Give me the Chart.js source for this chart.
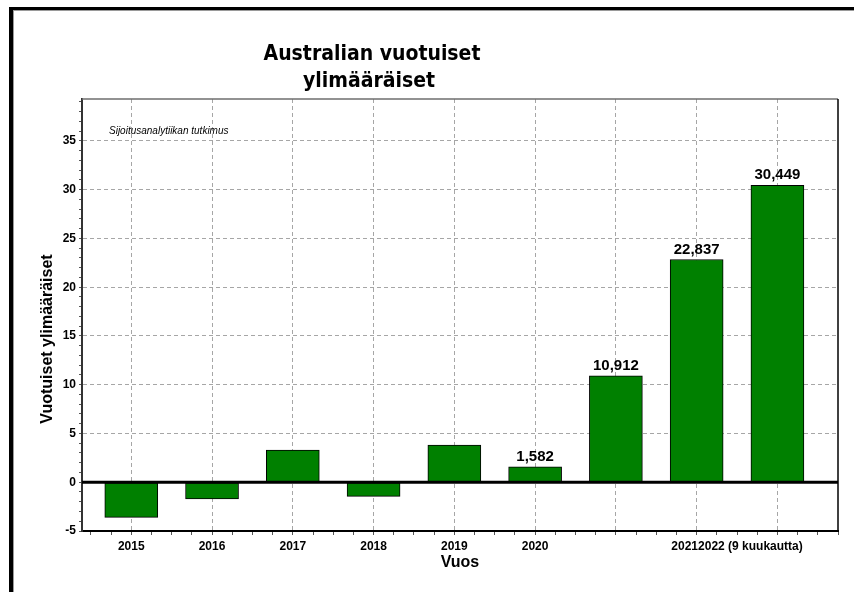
<!DOCTYPE html>
<html>
<head>
<meta charset="utf-8">
<script src="https://cdn.jsdelivr.net/npm/chart.js@4.4.0/dist/chart.umd.min.js"></script>
<style>
    html, body { margin: 0; padding: 0; background: #fff; }
    #wrap { width: 854px; height: 592px; }
</style>
</head>
<body>
<div id="wrap"><canvas id="chart" width="854" height="592"></canvas></div>
<script>
// --- DATA ---
const categories = ['2015', '2016', '2017', '2018', '2019', '2020', '', '2021', '2022 (9 kuukautta)'];
const values = [-3.6, -1.7, 3.3, -1.45, 3.8, 1.582, 10.912, 22.837, 30.449];
const showValue = [false, false, false, false, false, true, true, true, true];
const yTickLabels = [-5, 0, 5, 10, 15, 20, 25, 30, 35];

const titleLines = ['Australian vuotuiset', 'ylimääräiset'];
const yTitle = 'Vuotuiset ylimääräiset';
const xTitle = 'Vuos';
const sourceNote = 'Sijoitusanalytiikan tutkimus';

const FONT = "'Liberation Sans', Arial, sans-serif";
const GREEN = '#008000';
const GRID = '#a6a6a6';

// x ticks every quarter of a category, y ticks every unit (minor ticks)
function quarterTicks() {
    const t = [];
    for (let v = -0.5; v <= 8.75; v += 0.25) t.push({ value: Math.round(v * 100) / 100 });
    return t;
}
function unitTicks() {
    const t = [];
    for (let v = -5; v <= 39; v++) t.push({ value: v });
    return t;
}

// labels of 2021 and 2022 run together in the original
function xLabel(v) {
    if (Number.isInteger(v) && v >= 0 && v <= 5) return categories[v];
    if (v === 7.5) return categories[7] + categories[8];
    return '';
}

const tickValue = ctx => (ctx.tick ? ctx.tick.value : null);

const decorPlugin = {
    id: 'decor',
    beforeDraw(chart) {
        const c = chart.ctx;
        c.save();
        // outer frame (only top and left edges are in view)
        c.fillStyle = '#000';
        c.fillRect(9, 7, 845, 3);
        c.fillRect(9, 7, 4, 585);
        c.fillStyle = '#9a9a9a';
        c.fillRect(13, 10, 841, 1);
        c.fillRect(13, 10, 1, 582);
        c.restore();
    },
    afterDatasetsDraw(chart) {
        const c = chart.ctx;
        const area = chart.chartArea;
        const y = chart.scales.y;
        const meta = chart.getDatasetMeta(0);
        c.save();
        // zero line
        c.strokeStyle = '#000';
        c.lineWidth = 3;
        c.beginPath();
        c.moveTo(area.left, y.getPixelForValue(0));
        c.lineTo(area.right, y.getPixelForValue(0));
        c.stroke();
        // value labels
        c.fillStyle = '#000';
        c.font = 'bold 15px ' + FONT;
        c.textAlign = 'center';
        c.textBaseline = 'alphabetic';
        meta.data.forEach((bar, i) => {
            if (!showValue[i]) return;
            c.fillText(values[i].toFixed(3).replace('.', ','), bar.x, bar.y - 6);
        });
        c.restore();
    },
    afterDraw(chart) {
        const c = chart.ctx;
        const area = chart.chartArea;
        c.save();
        // plot frame top / right
        c.lineWidth = 1.5;
        c.strokeStyle = '#6e6e6e';
        c.beginPath();
        c.moveTo(area.left, area.top);
        c.lineTo(area.right, area.top);
        c.stroke();
        c.strokeStyle = '#000';
        c.beginPath();
        c.moveTo(area.right, area.top);
        c.lineTo(area.right, area.bottom);
        c.stroke();

        // title
        c.fillStyle = '#000';
        c.textAlign = 'center';
        c.textBaseline = 'alphabetic';
        c.font = "bold 21px 'DejaVu Sans Condensed', 'DejaVu Sans', sans-serif";
        c.fillText(titleLines[0], 372, 60);
        c.fillText(titleLines[1], 369, 87);

        // source note
        c.font = 'italic 10px ' + FONT;
        c.textAlign = 'left';
        c.textBaseline = 'middle';
        c.fillText(sourceNote, area.left + 27, area.top + 32);

        // y axis title
        c.font = 'bold 16px ' + FONT;
        c.textAlign = 'center';
        c.translate(area.left - 34, (area.top + area.bottom) / 2 + 24);
        c.rotate(-Math.PI / 2);
        c.fillText(yTitle, 0, 0);
        c.restore();
    }
};

const tickFont = { family: FONT, size: 12, weight: 'bold' };

new Chart(document.getElementById('chart').getContext('2d'), {
    type: 'bar',
    data: {
        datasets: [{
            data: values.map((v, i) => ({ x: i, y: v })),
            backgroundColor: GREEN,
            borderColor: '#000',
            borderWidth: 1,
            borderSkipped: false,
            barThickness: 53
        }]
    },
    options: {
        responsive: false,
        animation: false,
        layout: { padding: { top: 99, right: 16, left: 0, bottom: 0 } },
        plugins: { legend: { display: false }, tooltip: { enabled: false } },
        scales: {
            x: {
                type: 'linear',
                offset: false,
                min: -0.61,
                max: 8.75,
                afterBuildTicks: axis => { axis.ticks = quarterTicks(); },
                afterFit: s => { s.height = 61; },
                ticks: {
                    autoSkip: false,
                    maxRotation: 0,
                    padding: 4,
                    color: '#000',
                    font: tickFont,
                    callback: v => xLabel(v)
                },
                grid: {
                    offset: false,
                    color: ctx => {
                        const v = tickValue(ctx);
                        return v === null || Number.isInteger(v) ? GRID : 'transparent';
                    },
                    tickColor: '#555',
                    tickLength: 4,
                    lineWidth: 1
                },
                border: { color: '#000', width: 2, dash: [4, 3] },
                title: {
                    display: true,
                    text: xTitle,
                    color: '#000',
                    font: { family: FONT, size: 16, weight: 'bold' },
                    padding: { top: 0, bottom: 20 }
                }
            },
            y: {
                min: -5,
                max: 39.3,
                afterBuildTicks: axis => { axis.ticks = unitTicks(); },
                afterFit: s => { s.width = 82; },
                ticks: {
                    autoSkip: false,
                    padding: 3,
                    color: '#000',
                    font: tickFont,
                    callback: v => yTickLabels.includes(v) ? String(v) : ''
                },
                grid: {
                    color: ctx => {
                        const v = tickValue(ctx);
                        if (v === null) return GRID;
                        return (v % 5 === 0 && v !== 0) ? GRID : 'transparent';
                    },
                    tickColor: '#555',
                    tickLength: 3,
                    lineWidth: 1
                },
                border: { color: '#333', width: 2, dash: [4, 3] }
            }
        }
    },
    plugins: [decorPlugin]
});
</script>
</body>
</html>
